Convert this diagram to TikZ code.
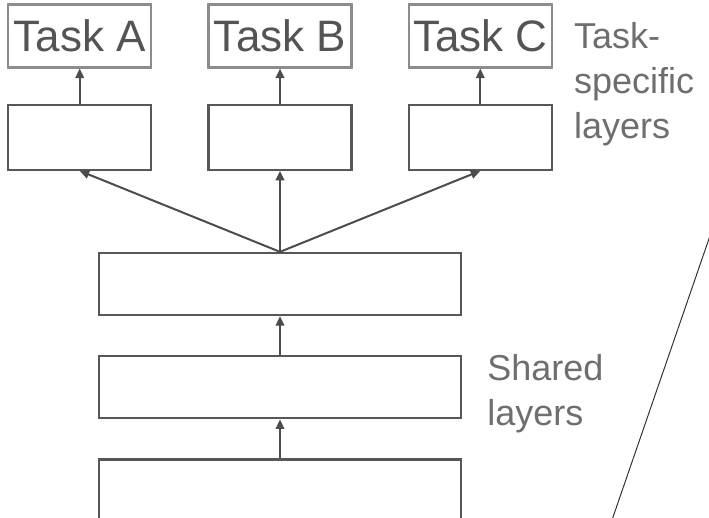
\documentclass[tikz,border=0pt]{standalone}
\usepackage{fontspec}
\setmainfont{Liberation Sans}
\usetikzlibrary{positioning}
\usetikzlibrary{arrows.meta}
\definecolor{boxgray}{HTML}{575757}
\definecolor{taskgray}{HTML}{8C8C8C}
\definecolor{arrowgray}{HTML}{4A4C50}
\definecolor{textgray}{HTML}{6E6E6E}

\begin{document}
\begin{tikzpicture}[x=1pt,y=-1pt,->,>={Triangle[length=9.5pt,width=8.5pt]},
                    line width=2.3pt,node distance=55pt]
  \tikzstyle{layer}=[draw=boxgray,rectangle,minimum width=143pt,minimum height=65pt,inner sep=0pt]
  \tikzstyle{shared}=[layer,minimum width=362pt,minimum height=62pt]
  \tikzstyle{task}=[draw=taskgray,rectangle,minimum width=143pt,minimum height=63pt,inner sep=0pt,
                    text=black!67,font=\fontsize{44}{50}\selectfont]
  \tikzstyle{side}=[inner sep=0pt,align=left,text=textgray,font=\fontsize{36}{45}\selectfont]

  \clip (0,0) rectangle (709,517);

  \node[shared] (S3) at (280,284)      {};
  \node[shared] (S2) [below=39pt of S3] {};
  \node[shared] (S1) [below=39pt of S2] {};
  \node[layer]  (LB) [above=81pt of S3] {};
  \node[layer]  (LA) [left=of LB]       {};
  \node[layer]  (LC) [right=of LB]      {};
  \node[task]   (TA) [above=35pt of LA] {Task A};
  \node[task]   (TB) [above=35pt of LB] {Task B};
  \node[task]   (TC) [above=35pt of LC] {Task C};

  \node[side] (TL) [below right=18pt and 20pt of TC.north east] {Task-\\specific\\layers};
  \node[side] (SL) [right=24pt of S2,yshift=-6pt] {Shared\\layers};

  \coordinate (cut1) at (712,230);
  \coordinate (cut2) at (612,520);

\begin{scope}[arrowgray,line width=2pt]

\draw (S1) -- (S2);
\draw (S2) -- (S3);
\draw (S3.north) -- (LA.south);
\draw (S3.north) -- (LB.south);
\draw (S3.north) -- (LC.south);
\draw (LA) -- (TA);
\draw (LB) -- (TB);
\draw (LC) -- (TC);

\end{scope}

\draw[-,line width=1pt,black!80] (cut1) -- (cut2);

\end{tikzpicture}
\end{document}
